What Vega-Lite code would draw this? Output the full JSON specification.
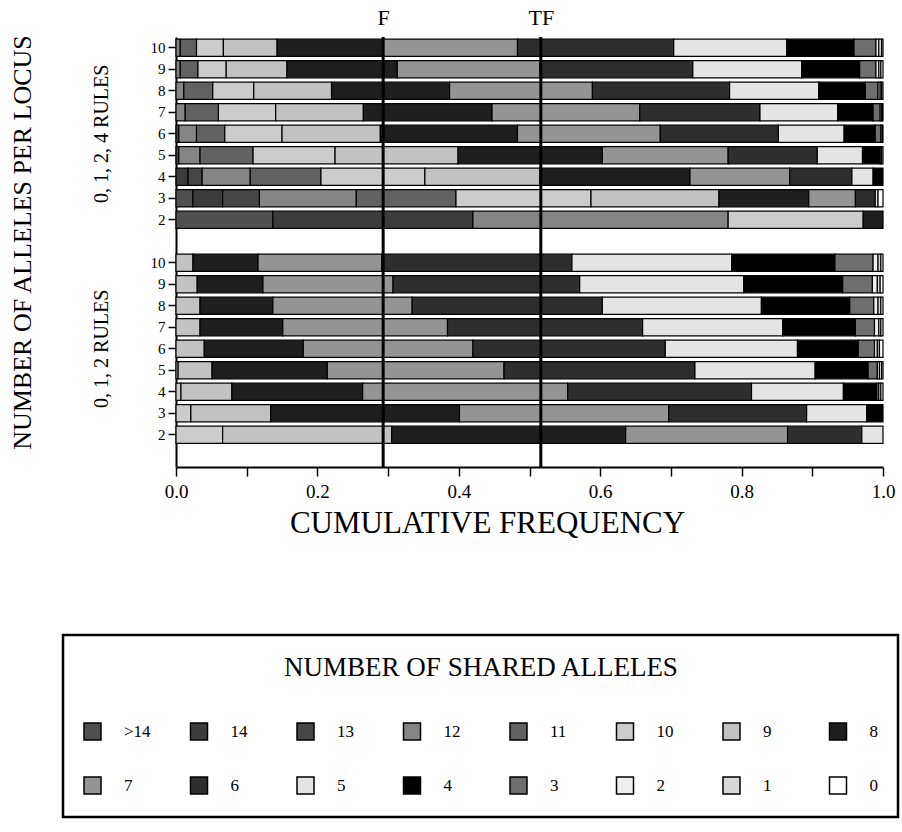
{
  "$schema": "https://vega.github.io/schema/vega-lite/v6.json",
  "width": 707,
  "height": 430,
  "autosize": "none",
  "padding": {"left": 176, "top": 37, "right": 19, "bottom": 365},
  "background": "white",
  "config": {
    "view": {"stroke": null},
    "font": "Liberation Serif",
    "axis": {"labelFont": "Liberation Serif", "titleFont": "Liberation Serif", "labelColor": "black", "titleColor": "black", "domainColor": "black", "tickColor": "black", "grid": false, "titleFontWeight": "normal"},
    "legend": {"strokeWidth": 2.5}
  },
  "datasets": {
    "bars": [
      {"r":"A10","s":"12","n":12,"f":0.006},{"r":"A10","s":"11","n":11,"f":0.023},{"r":"A10","s":"10","n":10,"f":0.038},{"r":"A10","s":"9","n":9,"f":0.076},{"r":"A10","s":"8","n":8,"f":0.150},{"r":"A10","s":"7","n":7,"f":0.190},{"r":"A10","s":"6","n":6,"f":0.221},{"r":"A10","s":"5","n":5,"f":0.160},{"r":"A10","s":"4","n":4,"f":0.095},{"r":"A10","s":"3","n":3,"f":0.031},{"r":"A10","s":"2","n":2,"f":0.004},{"r":"A10","s":"1","n":1,"f":0.004},{"r":"A10","s":"0","n":0,"f":0.002},
      {"r":"A9","s":"12","n":12,"f":0.006},{"r":"A9","s":"11","n":11,"f":0.025},{"r":"A9","s":"10","n":10,"f":0.040},{"r":"A9","s":"9","n":9,"f":0.086},{"r":"A9","s":"8","n":8,"f":0.156},{"r":"A9","s":"7","n":7,"f":0.202},{"r":"A9","s":"6","n":6,"f":0.216},{"r":"A9","s":"5","n":5,"f":0.154},{"r":"A9","s":"4","n":4,"f":0.082},{"r":"A9","s":"3","n":3,"f":0.023},{"r":"A9","s":"2","n":2,"f":0.004},{"r":"A9","s":"1","n":1,"f":0.003},{"r":"A9","s":"0","n":0,"f":0.003},
      {"r":"A8","s":"12","n":12,"f":0.011},{"r":"A8","s":"11","n":11,"f":0.041},{"r":"A8","s":"10","n":10,"f":0.058},{"r":"A8","s":"9","n":9,"f":0.110},{"r":"A8","s":"8","n":8,"f":0.167},{"r":"A8","s":"7","n":7,"f":0.202},{"r":"A8","s":"6","n":6,"f":0.194},{"r":"A8","s":"5","n":5,"f":0.126},{"r":"A8","s":"4","n":4,"f":0.066},{"r":"A8","s":"3","n":3,"f":0.018},{"r":"A8","s":"2","n":2,"f":0.003},{"r":"A8","s":"1","n":1,"f":0.002},{"r":"A8","s":"0","n":0,"f":0.002},
      {"r":"A7","s":"12","n":12,"f":0.013},{"r":"A7","s":"11","n":11,"f":0.047},{"r":"A7","s":"10","n":10,"f":0.081},{"r":"A7","s":"9","n":9,"f":0.124},{"r":"A7","s":"8","n":8,"f":0.182},{"r":"A7","s":"7","n":7,"f":0.209},{"r":"A7","s":"6","n":6,"f":0.170},{"r":"A7","s":"5","n":5,"f":0.110},{"r":"A7","s":"4","n":4,"f":0.050},{"r":"A7","s":"3","n":3,"f":0.010},{"r":"A7","s":"2","n":2,"f":0.002},{"r":"A7","s":"1","n":1,"f":0.001},{"r":"A7","s":"0","n":0,"f":0.001},
      {"r":"A6","s":"13","n":13,"f":0.004},{"r":"A6","s":"12","n":12,"f":0.025},{"r":"A6","s":"11","n":11,"f":0.040},{"r":"A6","s":"10","n":10,"f":0.081},{"r":"A6","s":"9","n":9,"f":0.139},{"r":"A6","s":"8","n":8,"f":0.194},{"r":"A6","s":"7","n":7,"f":0.202},{"r":"A6","s":"6","n":6,"f":0.167},{"r":"A6","s":"5","n":5,"f":0.093},{"r":"A6","s":"4","n":4,"f":0.044},{"r":"A6","s":"3","n":3,"f":0.008},{"r":"A6","s":"1","n":1,"f":0.002},{"r":"A6","s":"0","n":0,"f":0.001},
      {"r":"A5","s":"13","n":13,"f":0.004},{"r":"A5","s":"12","n":12,"f":0.030},{"r":"A5","s":"11","n":11,"f":0.075},{"r":"A5","s":"10","n":10,"f":0.116},{"r":"A5","s":"9","n":9,"f":0.174},{"r":"A5","s":"8","n":8,"f":0.204},{"r":"A5","s":"7","n":7,"f":0.178},{"r":"A5","s":"6","n":6,"f":0.126},{"r":"A5","s":"5","n":5,"f":0.064},{"r":"A5","s":"4","n":4,"f":0.025},{"r":"A5","s":"3","n":3,"f":0.002},{"r":"A5","s":"0","n":0,"f":0.002},
      {"r":"A4","s":"14","n":14,"f":0.017},{"r":"A4","s":"13","n":13,"f":0.020},{"r":"A4","s":"12","n":12,"f":0.068},{"r":"A4","s":"11","n":11,"f":0.100},{"r":"A4","s":"10","n":10,"f":0.147},{"r":"A4","s":"9","n":9,"f":0.163},{"r":"A4","s":"8","n":8,"f":0.212},{"r":"A4","s":"7","n":7,"f":0.141},{"r":"A4","s":"6","n":6,"f":0.088},{"r":"A4","s":"5","n":5,"f":0.030},{"r":"A4","s":"4","n":4,"f":0.014},
      {"r":"A3","s":">14","n":15,"f":0.024},{"r":"A3","s":"14","n":14,"f":0.042},{"r":"A3","s":"13","n":13,"f":0.052},{"r":"A3","s":"12","n":12,"f":0.137},{"r":"A3","s":"11","n":11,"f":0.141},{"r":"A3","s":"10","n":10,"f":0.191},{"r":"A3","s":"9","n":9,"f":0.181},{"r":"A3","s":"8","n":8,"f":0.127},{"r":"A3","s":"7","n":7,"f":0.066},{"r":"A3","s":"6","n":6,"f":0.028},{"r":"A3","s":"5","n":5,"f":0.004},{"r":"A3","s":"0","n":0,"f":0.007},
      {"r":"A2","s":">14","n":15,"f":0.137},{"r":"A2","s":"14","n":14,"f":0.283},{"r":"A2","s":"12","n":12,"f":0.361},{"r":"A2","s":"10","n":10,"f":0.191},{"r":"A2","s":"8","n":8,"f":0.028},
      {"r":"B10","s":"9","n":9,"f":0.024},{"r":"B10","s":"8","n":8,"f":0.092},{"r":"B10","s":"7","n":7,"f":0.175},{"r":"B10","s":"6","n":6,"f":0.269},{"r":"B10","s":"5","n":5,"f":0.226},{"r":"B10","s":"4","n":4,"f":0.146},{"r":"B10","s":"3","n":3,"f":0.054},{"r":"B10","s":"2","n":2,"f":0.007},{"r":"B10","s":"1","n":1,"f":0.004},{"r":"B10","s":"0","n":0,"f":0.003},
      {"r":"B9","s":"9","n":9,"f":0.030},{"r":"B9","s":"8","n":8,"f":0.093},{"r":"B9","s":"7","n":7,"f":0.184},{"r":"B9","s":"6","n":6,"f":0.264},{"r":"B9","s":"5","n":5,"f":0.232},{"r":"B9","s":"4","n":4,"f":0.140},{"r":"B9","s":"3","n":3,"f":0.042},{"r":"B9","s":"2","n":2,"f":0.007},{"r":"B9","s":"1","n":1,"f":0.004},{"r":"B9","s":"0","n":0,"f":0.004},
      {"r":"B8","s":"9","n":9,"f":0.034},{"r":"B8","s":"8","n":8,"f":0.103},{"r":"B8","s":"7","n":7,"f":0.197},{"r":"B8","s":"6","n":6,"f":0.269},{"r":"B8","s":"5","n":5,"f":0.225},{"r":"B8","s":"4","n":4,"f":0.125},{"r":"B8","s":"3","n":3,"f":0.034},{"r":"B8","s":"2","n":2,"f":0.006},{"r":"B8","s":"1","n":1,"f":0.004},{"r":"B8","s":"0","n":0,"f":0.003},
      {"r":"B7","s":"9","n":9,"f":0.034},{"r":"B7","s":"8","n":8,"f":0.117},{"r":"B7","s":"7","n":7,"f":0.233},{"r":"B7","s":"6","n":6,"f":0.276},{"r":"B7","s":"5","n":5,"f":0.198},{"r":"B7","s":"4","n":4,"f":0.103},{"r":"B7","s":"3","n":3,"f":0.027},{"r":"B7","s":"2","n":2,"f":0.006},{"r":"B7","s":"1","n":1,"f":0.003},{"r":"B7","s":"0","n":0,"f":0.003},
      {"r":"B6","s":"9","n":9,"f":0.040},{"r":"B6","s":"8","n":8,"f":0.140},{"r":"B6","s":"7","n":7,"f":0.240},{"r":"B6","s":"6","n":6,"f":0.272},{"r":"B6","s":"5","n":5,"f":0.187},{"r":"B6","s":"4","n":4,"f":0.086},{"r":"B6","s":"3","n":3,"f":0.023},{"r":"B6","s":"2","n":2,"f":0.004},{"r":"B6","s":"1","n":1,"f":0.003},{"r":"B6","s":"0","n":0,"f":0.005},
      {"r":"B5","s":"10","n":10,"f":0.003},{"r":"B5","s":"9","n":9,"f":0.048},{"r":"B5","s":"8","n":8,"f":0.163},{"r":"B5","s":"7","n":7,"f":0.250},{"r":"B5","s":"6","n":6,"f":0.270},{"r":"B5","s":"5","n":5,"f":0.170},{"r":"B5","s":"4","n":4,"f":0.075},{"r":"B5","s":"3","n":3,"f":0.013},{"r":"B5","s":"2","n":2,"f":0.003},{"r":"B5","s":"1","n":1,"f":0.003},{"r":"B5","s":"0","n":0,"f":0.002},
      {"r":"B4","s":"10","n":10,"f":0.007},{"r":"B4","s":"9","n":9,"f":0.072},{"r":"B4","s":"8","n":8,"f":0.185},{"r":"B4","s":"7","n":7,"f":0.290},{"r":"B4","s":"6","n":6,"f":0.260},{"r":"B4","s":"5","n":5,"f":0.130},{"r":"B4","s":"4","n":4,"f":0.047},{"r":"B4","s":"3","n":3,"f":0.003},{"r":"B4","s":"1","n":1,"f":0.003},{"r":"B4","s":"0","n":0,"f":0.003},
      {"r":"B3","s":"10","n":10,"f":0.021},{"r":"B3","s":"9","n":9,"f":0.113},{"r":"B3","s":"8","n":8,"f":0.267},{"r":"B3","s":"7","n":7,"f":0.296},{"r":"B3","s":"6","n":6,"f":0.195},{"r":"B3","s":"5","n":5,"f":0.085},{"r":"B3","s":"4","n":4,"f":0.023},
      {"r":"B2","s":"10","n":10,"f":0.066},{"r":"B2","s":"9","n":9,"f":0.239},{"r":"B2","s":"8","n":8,"f":0.331},{"r":"B2","s":"7","n":7,"f":0.229},{"r":"B2","s":"6","n":6,"f":0.105},{"r":"B2","s":"5","n":5,"f":0.030}
    ],
    "markers": [{"name": "F", "v": 0.293}, {"name": "TF", "v": 0.516}],
    "groups": [{"r": "A6", "label": "0, 1, 2, 4 RULES"}, {"r": "B6", "label": "0, 1, 2 RULES"}]
  },
  "resolve": {"axis": {"x": "independent"}},
  "layer": [
    {
      "data": {"name": "bars"},
      "mark": {"type": "bar", "stroke": "black", "strokeWidth": 1.2},
      "encoding": {
        "y": {
          "field": "r", "type": "nominal",
          "scale": {"domain": ["A10","A9","A8","A7","A6","A5","A4","A3","A2","GAP","B10","B9","B8","B7","B6","B5","B4","B3","B2","END"], "paddingInner": 0.2, "paddingOuter": 0.1},
          "axis": {
            "values": ["A10","A9","A8","A7","A6","A5","A4","A3","A2","B10","B9","B8","B7","B6","B5","B4","B3","B2"],
            "labelExpr": "slice(datum.value, 1)",
            "title": "NUMBER OF ALLELES PER LOCUS",
            "titleFontSize": 26, "titleAngle": 270, "titleX": -154, "titleY": 205, "titleBaseline": "middle", "titleAlign": "center",
            "labelFontSize": 15, "tickSize": 8, "tickWidth": 1.5, "domainWidth": 2, "labelPadding": 3
          }
        },
        "x": {
          "field": "f", "type": "quantitative", "stack": "zero",
          "scale": {"domain": [0, 1], "nice": false},
          "axis": {
            "values": [0, 0.1, 0.2, 0.3, 0.4, 0.5, 0.6, 0.7, 0.8, 0.9, 1.0],
            "labelExpr": "round(datum.value * 10) % 2 == 0 ? format(datum.value, '.1f') : ''",
            "title": "CUMULATIVE FREQUENCY", "titleFontSize": 31, "titleX": 311, "titleY": 41, "titleBaseline": "top", "titleAlign": "center",
            "labelFontSize": 19, "tickSize": 9, "tickWidth": 1.5, "domainWidth": 2, "labelPadding": 6, "labelFlush": false
          }
        },
        "order": {"field": "n", "type": "quantitative", "sort": "descending"},
        "color": {
          "field": "s", "type": "nominal",
          "scale": {
            "domain": [">14","14","13","12","11","10","9","8","7","6","5","4","3","2","1","0"],
            "range": ["#505050","#3c3c3c","#464646","#858585","#626262","#cccccc","#c2c2c2","#1e1e1e","#949494","#2e2e2e","#e4e4e4","#000000","#6e6e6e","#eeeeee","#d8d8d8","#ffffff"]
          },
          "legend": {
            "orient": "none", "legendX": -113, "legendY": 598,
            "direction": "horizontal", "columns": 8, "gridAlign": "all",
            "title": "NUMBER OF SHARED ALLELES", "titleFont": "Liberation Serif", "titleFontSize": 27, "titleFontWeight": "normal", "titleAnchor": "middle", "titlePadding": 40, "titleColor": "black", "titleLimit": 2000,
            "labelFont": "Liberation Serif", "labelFontSize": 17, "labelOffset": 22, "labelColor": "black",
            "symbolType": "square", "symbolSize": 289, "symbolStrokeColor": "black", "symbolStrokeWidth": 1.5, "symbolOpacity": 1,
            "columnPadding": 36.5, "rowPadding": 31, "padding": 20,
            "strokeColor": "black"
          }
        }
      }
    },
    {
      "data": {"name": "markers"},
      "mark": {"type": "rule", "color": "black", "strokeWidth": 3},
      "encoding": {
        "x": {
          "field": "v", "type": "quantitative",
          "scale": {"domain": [0, 1], "nice": false},
          "axis": {"orient": "top", "values": [0.293, 0.516], "labelExpr": "datum.value < 0.4 ? 'F' : 'TF'", "ticks": false, "domain": false, "title": null, "labelFontSize": 22, "labelPadding": 8}
        }
      }
    },
    {
      "data": {"name": "groups"},
      "mark": {"type": "text", "angle": 270, "fontSize": 20, "font": "Liberation Serif", "align": "center", "baseline": "middle", "color": "black"},
      "encoding": {
        "y": {"field": "r", "type": "nominal", "title": "NUMBER OF ALLELES PER LOCUS"},
        "x": {"datum": -0.105, "type": "quantitative", "scale": {"domain": [0, 1], "nice": false}, "axis": null},
        "text": {"field": "label"}
      }
    }
  ]
}
